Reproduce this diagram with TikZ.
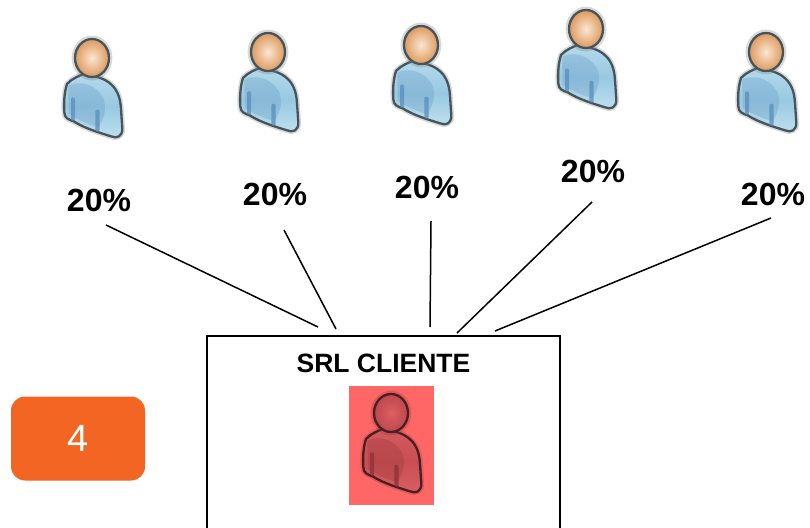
\documentclass[tikz,border=0pt]{standalone}
\usepackage{fontspec}
\setmainfont{Liberation Sans}
\definecolor{orangebox}{HTML}{F26522}
\definecolor{redbg}{HTML}{FF6666}
\tikzset{
  x=1pt,y=-1pt,
  pct/.style={font=\fontsize{32}{32}\bfseries\selectfont,inner sep=0pt,text=black},
  link/.style={draw=black,line width=1.5pt},
  pics/person/.style n args={9}{code={
    % head centre is the origin; coordinates taken from the 3x zoom
    \begin{scope}[x=0.3333pt,y=-0.3333pt,shift={(-155,-117)}]
      \def\bodypath{(80,195) .. controls (95,178) and (118,170) .. (135,163) .. controls (160,172) and (185,175) .. (205,190) .. controls (230,208) and (240,235) .. (242,270) -- (246,330) .. controls (246,352) and (230,360) .. (212,352) .. controls (180,342) and (130,327) .. (100,307) .. controls (85,302) and (72,297) .. (72,280) .. controls (70,250) and (72,220) .. (80,195) -- cycle}
      \draw[draw=#1,line width=5.5pt,opacity=.3,line join=round] \bodypath;
      \shade[top color=#3,bottom color=#4,middle color=#5,draw=#2,line width=2.3pt,line join=round] \bodypath;
      \fill[#6,opacity=.28] (84,200) .. controls (110,185) and (165,190) .. (190,240) .. controls (200,270) and (190,300) .. (175,325) .. controls (140,315) and (110,300) .. (85,285) -- cycle;
      \fill[#6,opacity=.8,rounded corners=2pt] (92,235) rectangle (104,305);
      \fill[#6,opacity=.8,rounded corners=2pt] (165,272) rectangle (178,338);
      \draw[draw=#1,line width=5.5pt,opacity=.3] (155,117) ellipse (53 and 59);
      \shade[inner color=#7,outer color=#8,draw=#9,line width=2.3pt] (155,117) ellipse (51 and 57);
    \end{scope}
  }},
}
\begin{document}
\begin{tikzpicture}
\useasboundingbox (0,0) rectangle (810,527);
\clip (0,0) rectangle (810,527);
\definecolor{bodytop}{HTML}{B4DAEC}
\definecolor{bodymid}{HTML}{98C9E2}
\definecolor{bodybot}{HTML}{BFE0EE}
\definecolor{sleeve}{HTML}{5C90BE}
\definecolor{headin}{HTML}{FBE6D2}
\definecolor{headout}{HTML}{DD9A5E}
\definecolor{edgeblue}{HTML}{46555C}
\definecolor{redtop}{HTML}{D45A5E}
\definecolor{redmid}{HTML}{C94F54}
\definecolor{redbot}{HTML}{D85F62}
\definecolor{redsleeve}{HTML}{8E3338}
\definecolor{redin}{HTML}{DD5F62}
\definecolor{redout}{HTML}{BC484E}
\definecolor{edgered}{HTML}{4A1E22}

\pic (p1) at (92,58) {person={gray}{edgeblue}{bodytop}{bodybot}{bodymid}{sleeve}{headin}{headout}{edgeblue}};
\pic (p2) at (268,52) {person={gray}{edgeblue}{bodytop}{bodybot}{bodymid}{sleeve}{headin}{headout}{edgeblue}};
\pic (p3) at (421,45) {person={gray}{edgeblue}{bodytop}{bodybot}{bodymid}{sleeve}{headin}{headout}{edgeblue}};
\pic (p4) at (586,29) {person={gray}{edgeblue}{bodytop}{bodybot}{bodymid}{sleeve}{headin}{headout}{edgeblue}};
\pic (p5) at (766,52) {person={gray}{edgeblue}{bodytop}{bodybot}{bodymid}{sleeve}{headin}{headout}{edgeblue}};

\node[pct] (l1) at (99,200) {20\%};
\node[pct] (l2) at (275,194) {20\%};
\node[pct] (l3) at (427,187) {20\%};
\node[pct] (l4) at (593,171) {20\%};
\node[pct] (l5) at (773,194) {20\%};

\coordinate (a1) at (106,225); \coordinate (b1) at (318,327);
\coordinate (a2) at (284,230); \coordinate (b2) at (336,329);
\coordinate (a3) at (431,221); \coordinate (b3) at (430,327);
\coordinate (a4) at (592,202); \coordinate (b4) at (457,333);
\coordinate (a5) at (771,218); \coordinate (b5) at (495,331);
\foreach \i in {1,...,5} \draw[link] (a\i) -- (b\i);

\draw[black,line width=1.5pt] (207,540) -- (207,336) -- (560,336) -- (560,540);
\node[font=\fontsize{26.5}{26.5}\bfseries\selectfont,inner sep=0pt] (title) at (383.5,363) {SRL CLIENTE};
\fill[redbg] (349,386) rectangle (434,505);
\pic (client) at (391,413) {person={redbg!60!black}{edgered}{redtop}{redbot}{redmid}{redsleeve}{redin}{redout}{edgered}};

\node[fill=orangebox,rounded corners=14pt,minimum width=134pt,minimum height=84pt,inner sep=0pt,text=white,font=\fontsize{38}{38}\selectfont] (badge) at (78,438.5) {4};
\end{tikzpicture}
\end{document}
